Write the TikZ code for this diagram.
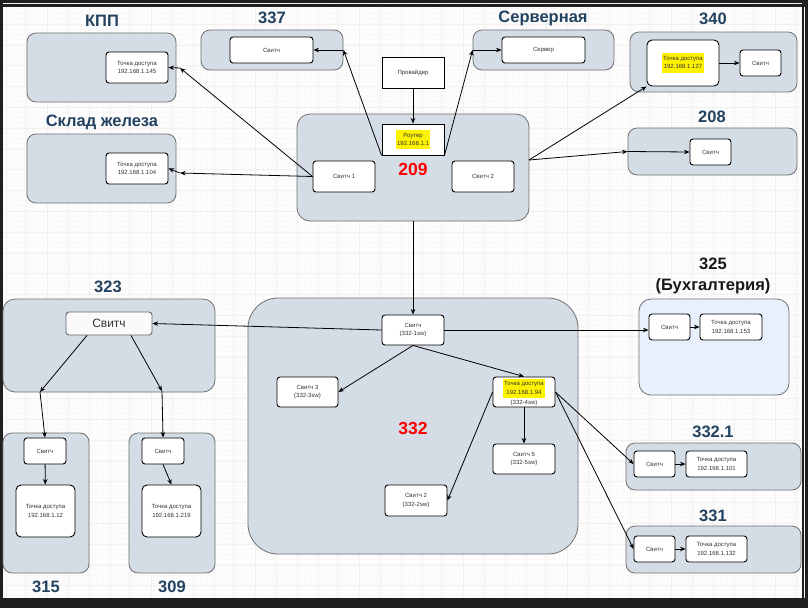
\documentclass[tikz,border=0pt]{standalone}
\usepackage{fontspec}
\setmainfont{Liberation Sans}
\usetikzlibrary{arrows.meta}

\definecolor{grpfill}{HTML}{D4DDE5}
\definecolor{grpline}{HTML}{707070}
\definecolor{bluefill}{HTML}{E8F0FD}
\definecolor{ttlblue}{HTML}{23425F}
\definecolor{txtgray}{HTML}{333333}
\definecolor{hlyellow}{HTML}{FFF200}
\definecolor{frame}{HTML}{1F1F1F}
\definecolor{canvas}{HTML}{FDFDFD}
\definecolor{minorgrid}{HTML}{F9F9F9}
\definecolor{majorgrid}{HTML}{F0F0F0}

\newcommand{\hlbox}[1]{{\setlength{\fboxsep}{1.5pt}\colorbox{hlyellow}{\begin{tabular}{@{}c@{}}#1\end{tabular}}}}

\begin{document}
\begin{tikzpicture}
        [%%%%%%%%%%%%%%%%%%%%%%%%%%%%%%
        x=1pt,y=-1pt,
        sz/.style 2 args={minimum width=#1pt,minimum height=#2pt},
        grp/.style={rectangle,rounded corners=9pt,draw=grpline,fill=grpfill,line width=0.8pt,inner sep=0pt},
        box/.style={rectangle,rounded corners=3pt,draw=black,fill=white,line width=0.9pt,inner sep=0pt,
                    align=center,text=txtgray,font=\fontsize{6}{8.3}\selectfont},
        sqbox/.style={box,rounded corners=0pt},
        ttl/.style={text=ttlblue,font=\bfseries\fontsize{16.5}{19}\selectfont},
        redlbl/.style={text=red,font=\bfseries\fontsize{17.5}{20}\selectfont},
        arr/.style={-{Stealth[length=5.5pt,width=4.5pt]},line width=0.8pt,black},
        ]%%%%%%%%%%%%%%%%%%%%%%%%%%%%%%

        % frame and grid
        \useasboundingbox (0,0) rectangle (808,608);
        \fill[frame] (0,0) rectangle (808,608);
        \fill[canvas] (3,7) rectangle (802,598);
        \foreach \i in {0,1,...,154}
          \draw[minorgrid,line width=0.25pt] (3+5.2*\i,7) -- (3+5.2*\i,598);
        \foreach \j in {0,1,...,113}
          \draw[minorgrid,line width=0.25pt] (3,8+5.2*\j) -- (802,8+5.2*\j);
        \foreach \i in {0,1,...,38}
          \draw[majorgrid,line width=0.35pt] (5.8+20.8*\i,7) -- (5.8+20.8*\i,598);
        \foreach \j in {0,1,...,28}
          \draw[majorgrid,line width=0.35pt] (3,3.2+20.8*\j) -- (802,3.2+20.8*\j);

        % groups
        \node[grp,sz={149}{69}] (gkpp) at (101.5,67.5) {};
        \node[grp,sz={149}{69}] (gsklad) at (101.5,168.5) {};
        \node[grp,sz={142}{40}] (g337) at (272,50) {};
        \node[grp,sz={141}{40}] (gsrv) at (543.5,50) {};
        \node[grp,sz={167}{60}] (g340) at (713.5,62) {};
        \node[grp,sz={169}{47}] (g208) at (712.5,151.5) {};
        \node[grp,sz={232}{107},rounded corners=13pt] (g209) at (413,167.5) {};
        \node[grp,sz={212}{93},rounded corners=12pt] (g323) at (109,345.5) {};
        \node[grp,sz={86}{140}] (g315) at (46,503) {};
        \node[grp,sz={86}{140}] (g309) at (172,503) {};
        \node[grp,sz={330}{256},rounded corners=30pt] (g332) at (413,426) {};
        \node[grp,sz={150}{96},fill=bluefill,rounded corners=12pt] (g325) at (714,347) {};
        \node[grp,sz={175}{47}] (g3321) at (713.5,466.5) {};
        \node[grp,sz={175}{47}] (g331) at (713.5,549.5) {};

        % titles
        \node[ttl] (tkpp) at (102,21) {КПП};
        \node[ttl] (tsklad) at (102,122) {Склад железа};
        \node[ttl] (t337) at (272,18) {337};
        \node[ttl] (tsrv) at (543,18) {Серверная};
        \node[ttl] (t340) at (713,19) {340};
        \node[ttl] (t208) at (712,117) {208};
        \node[ttl] (t323) at (108,287) {323};
        \node[ttl,text=black!90,align=center,font=\bfseries\fontsize{16.5}{21.5}\selectfont] (t325) at (713,276) {325\\(Бухгалтерия)};
        \node[ttl] (t315) at (46,587) {315};
        \node[ttl] (t309) at (172,587) {309};
        \node[ttl] (t3321) at (713,432) {332.1};
        \node[ttl] (t331) at (713,516) {331};
        \node[redlbl] (l209) at (413,169) {209};
        \node[redlbl] (l332) at (413,428) {332};

        % top row
        \node[box,sz={62}{31}] (ap145) at (137,67.5) {Точка доступа\\192.168.1.145};
        \node[box,sz={62}{31}] (ap104) at (137,168.5) {Точка доступа\\192.168.1.104};
        \node[box,sz={83}{26}] (sw337) at (271.5,50) {Свитч};
        \node[box,sz={83}{26}] (srv) at (543.5,50) {Сервер};
        \node[sqbox,sz={62}{31}] (prov) at (413,72.5) {Провайдер};
        \node[sqbox,sz={62}{31}] (router) at (413,139.5) {\hlbox{Роутер\\192.168.1.1}};
        \node[box,sz={62}{31}] (sw1) at (344,176.5) {Свитч 1};
        \node[box,sz={62}{31}] (sw2) at (483,176.5) {Свитч 2};
        \node[box,sz={72}{46},rounded corners=5pt] (ap127) at (683,63) {\hlbox{Точка доступа\\192.168.1.127}};
        \node[box,sz={41}{26}] (sw340) at (760.5,63) {Свитч};
        \node[box,sz={41}{26}] (sw208) at (710.5,152) {Свитч};

        % bottom left
        \node[box,sz={86}{23},fill=gray!4,draw=gray!80!black,font=\fontsize{12}{14}\selectfont] (sw323) at (109,323.5) {Свитч};
        \node[box,sz={42}{26}] (sw315) at (45,451) {Свитч};
        \node[box,sz={59}{52},rounded corners=5pt] (ap12) at (45.5,511) {Точка доступа\\192.168.1.12};
        \node[box,sz={42}{26}] (sw309) at (163,451) {Свитч};
        \node[box,sz={59}{52},rounded corners=5pt] (ap219) at (171.5,511) {Точка доступа\\192.168.1.219};

        % 332
        \node[box,sz={62}{30}] (sw3321sw) at (413,330) {Свитч\\(332-1sw)};
        \node[box,sz={61}{30}] (sw3) at (307.5,392) {Свитч 3\\(332-3sw)};
        \node[box,sz={62}{30}] (ap94) at (524,392) {\hlbox{Точка доступа\\192.168.1.94}\\[0.5pt](332-4sw)};
        \node[box,sz={62}{30}] (sw5) at (524,459) {Свитч 5\\(332-5sw)};
        \node[box,sz={62}{31}] (sw2b) at (416,500.5) {Свитч 2\\(332-2sw)};

        % right column
        \node[box,sz={41}{26}] (sw325) at (669.5,327) {Свитч};
        \node[box,sz={62}{26}] (ap153) at (731,327) {Точка доступа\\192.168.1.153};
        \node[box,sz={41}{26}] (sw3321) at (654.5,464) {Свитч};
        \node[box,sz={61}{26}] (ap101) at (716.5,464) {Точка доступа\\192.168.1.101};
        \node[box,sz={41}{26}] (sw331) at (654.5,549) {Свитч};
        \node[box,sz={61}{26}] (ap132) at (716.5,549) {Точка доступа\\192.168.1.132};

        % links
        \coordinate (in337) at (g337.east);
        \coordinate (insrv) at (gsrv.west);
        \coordinate (inkpp) at (180,68);
        \coordinate (insklad) at (180,173);
        \coordinate (out209) at (529,160);
        \coordinate (in208) at (g208.west);
        \coordinate (out315) at (40,392);
        \coordinate (out309) at (162,391);

        \draw[arr] (prov) -- (router);
        \draw[arr] (router.south west) -- (in337);
        \draw[arr] (in337) -- (sw337.east);
        \draw[arr] (router.south east) -- (insrv);
        \draw[arr] (insrv) -- (srv.west);
        \draw[arr] (sw1.west) -- (inkpp);
        \draw[arr] (inkpp) -- (ap145.east);
        \draw[arr] (sw1.west) -- (insklad);
        \draw[arr] (insklad) -- (ap104.east);
        \draw[arr] (out209) -- (ap127.south west);
        \draw[arr] (out209) -- (in208);
        \draw[arr] (in208) -- (sw208.west);
        \draw[arr] (ap127) -- (sw340);

        \draw[arr] (g209.south) -- (sw3321sw.north);
        \draw[arr] (sw3321sw.west) -- (sw323.east);
        \draw[arr] (sw3321sw.east) -- (sw3321sw.east -| sw325.west);
        \draw[arr] (sw3321sw.south) -- (sw3.east);
        \draw[arr] (sw3321sw.south) -- (ap94.north);
        \draw[arr] (ap94) -- (sw5);
        \draw[arr] (ap94.west) -- (sw2b.east);
        \draw[arr] (ap94.east) -- (sw3321.west);
        \draw[arr] (ap94.east) -- (sw331.west);
        \draw[arr] (sw325) -- (ap153);
        \draw[arr] (sw3321) -- (ap101);
        \draw[arr] (sw331) -- (ap132);

        \draw[arr] ([xshift=-22pt]sw323.south) -- (out315);
        \draw[arr] (out315) -- (sw315.north);
        \draw[arr] ([xshift=22pt]sw323.south) -- (out309);
        \draw[arr] (out309) -- (sw309.north);
        \draw[arr] (sw315) -- (ap12);
        \draw[arr] (sw309.south) -- (ap219.north);

      \end{tikzpicture}
\end{document}
